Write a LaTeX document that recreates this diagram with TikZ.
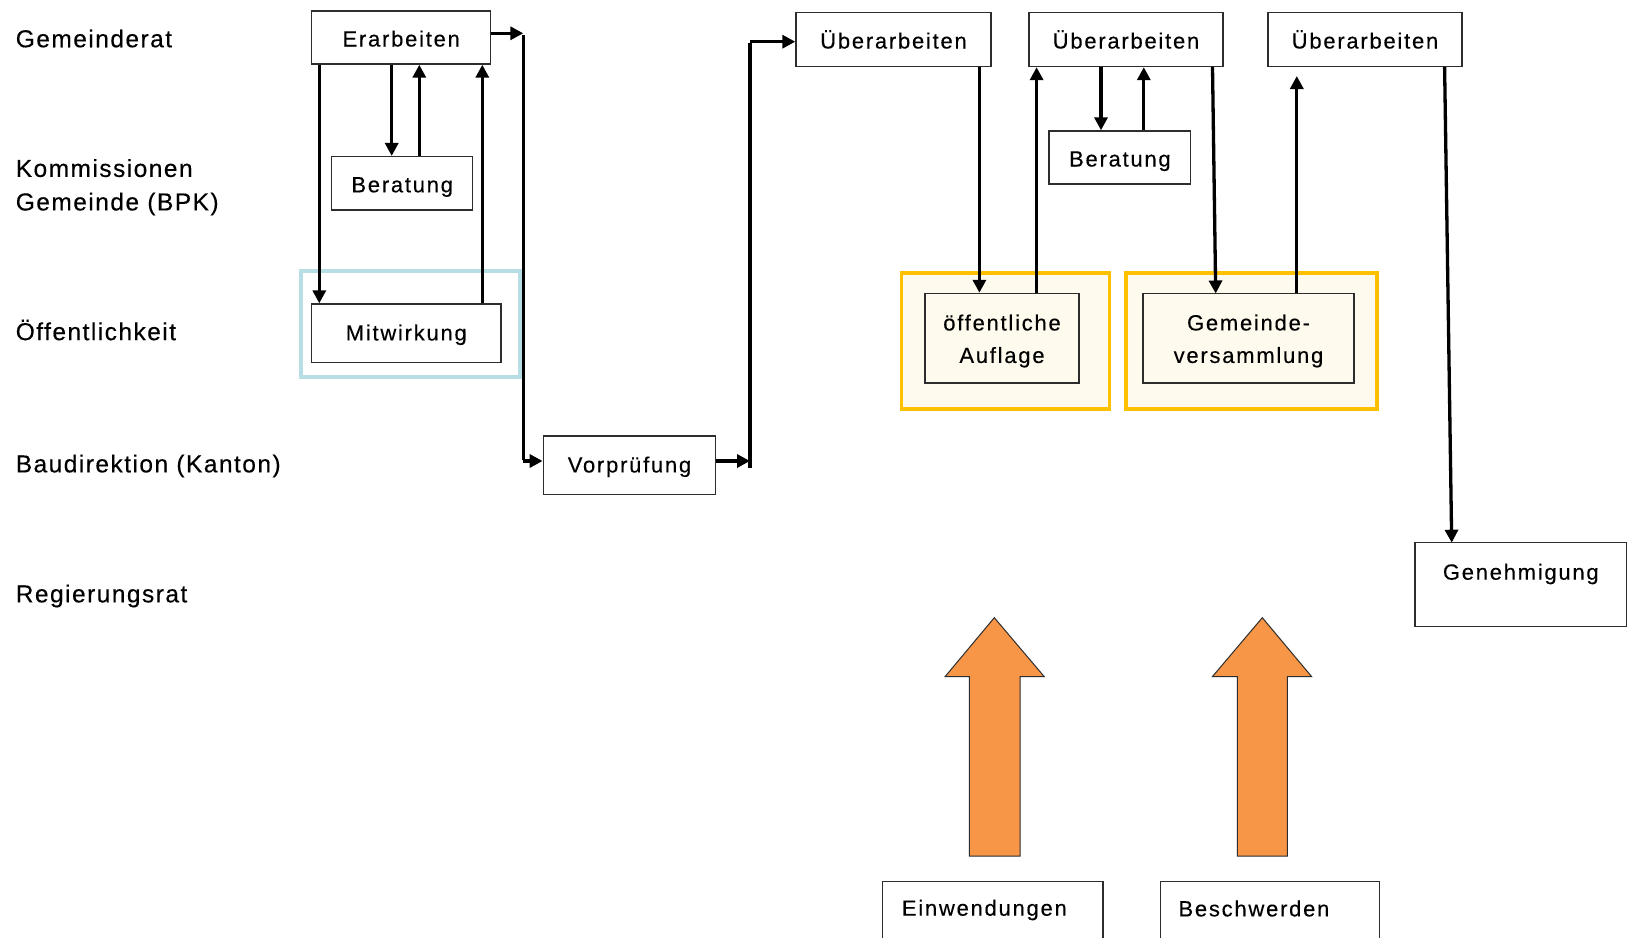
\documentclass[tikz,border=0pt]{standalone}
\usepackage{fontspec}
\setmainfont{Liberation Sans}[LetterSpace=8,FakeBold=0.3]
\newfontfamily\labelfont{Liberation Sans}[LetterSpace=6,FakeBold=0.3]
\usetikzlibrary{arrows.meta}
\definecolor{boxline}{RGB}{45,45,45}
\definecolor{cyanframe}{RGB}{183,222,228}
\definecolor{orangeframe}{RGB}{255,192,0}
\definecolor{cream}{RGB}{255,250,238}
\definecolor{bigarrow}{RGB}{247,150,70}
\tikzset{
  boxtext/.style={font=\fontsize{22}{32.5}\selectfont},
  procbox/.style={draw=boxline, line width=1.4pt, fill=white, inner sep=0pt, boxtext, align=center, text height=18pt, text depth=0pt},
  emptybox/.style={draw=boxline, line width=1.4pt, fill=white, inner sep=0pt},
  creambox/.style={emptybox, fill=cream},
  freetext/.style={boxtext, inner sep=0pt, align=center},
  lanelabel/.style={anchor=west, inner sep=0pt, font=\labelfont\fontsize{24.5}{33.5}\selectfont, align=left},
  flow/.style={line width=3.3pt, -{Triangle[length=13pt,width=13pt]}},
  plainline/.style={line width=3.3pt},
  frame/.style={line width=3.6pt},
  fatarrow/.style={draw=boxline, line width=1pt, fill=bigarrow},
}
\begin{document}
\begin{tikzpicture}[x=1pt,y=-1pt]
\useasboundingbox (0,0) rectangle (1632,937);
\clip (0,0) rectangle (1632,937);
\fill[white] (0,0) rectangle (1632,937);

% lane labels
\node[lanelabel] (lGR) at (15.6,38.5) {Gemeinderat};
\node[lanelabel] (lKom) at (15.6,187.3) {Kommissionen\\Gemeinde (BPK)};
\node[lanelabel] (lOef) at (15.6,330) {Öffentlichkeit};
\node[lanelabel] (lBau) at (15.6,466) {Baudirektion (Kanton)};
\node[lanelabel] (lReg) at (15.6,596) {Regierungsrat};

% frames
\draw[frame, draw=cyanframe] (300.7,271) rectangle (520,376.7);
\draw[frame, draw=orangeframe, fill=cream] (901.3,272.7) rectangle (1109.5,409);
\draw[frame, draw=orangeframe, fill=cream] (1126,272.7) rectangle (1377,409);

% boxes
\node[procbox, minimum width=179pt, minimum height=53pt] (erarb) at (401.2,37.5) {Erarbeiten};
\node[procbox, minimum width=141pt, minimum height=53.3pt] (berat1) at (402.2,183.3) {Beratung};
\node[procbox, minimum width=189.3pt, minimum height=58.3pt, text height=14.5pt] (mitw) at (406.3,333.2) {Mitwirkung};
\node[procbox, minimum width=172.4pt, minimum height=58.3pt, text height=14.5pt] (vorp) at (629.5,465.2) {Vorprüfung};
\node[procbox, minimum width=195pt, minimum height=54pt] (ue1) at (893.5,39.5) {Überarbeiten};
\node[procbox, minimum width=194pt, minimum height=54pt] (ue2) at (1126,39.5) {Überarbeiten};
\node[procbox, minimum width=194pt, minimum height=54pt] (ue3) at (1365,39.5) {Überarbeiten};
\node[procbox, minimum width=141.7pt, minimum height=53pt] (berat2) at (1119.9,157.5) {Beratung};
\node[creambox, minimum width=154pt, minimum height=89.5pt] (oeA) at (1002,338.2) {};
\node[freetext] (oeAtext) at (1002,341) {öffentliche\\Auflage};
\node[creambox, minimum width=211pt, minimum height=89.5pt] (gv) at (1248.5,338.2) {};
\node[freetext] (gvtext) at (1248.5,341) {Gemeinde-\\versammlung};
\node[emptybox, minimum width=211.7pt, minimum height=84pt] (gen) at (1520.8,584.7) {};
\node[freetext] (gentext) at (1520.8,574) {Genehmigung};
\node[emptybox, minimum width=220.6pt, minimum height=80pt, anchor=north west] (einw) at (881.7,880.7) {};
\node[freetext, anchor=west] (einwtext) at (901.7,910) {Einwendungen};
\node[emptybox, minimum width=219pt, minimum height=80pt, anchor=north west] (besch) at (1160,880.7) {};
\node[freetext, anchor=west] (beschtext) at (1178.3,908.5) {Beschwerden};

% left cluster connectors
\draw[flow] (erarb.south -| 319.3,0) -- (mitw.north -| 319.3,0);
\draw[flow] (erarb.south -| 391.7,0) -- (berat1.north -| 391.7,0);
\draw[flow] (berat1.north -| 419.3,0) -- (erarb.south -| 419.3,0);
\draw[flow] (mitw.north -| 482.3,0) -- (erarb.south -| 482.3,0);

% route Erarbeiten -> Vorpruefung
\coordinate (j1top) at (523.3,33.3);
\coordinate (j1bot) at (523.3,461);
\draw[flow] (erarb.east |- j1top) -- (j1top);
\draw[plainline] ([yshift=-1.5pt]j1top) -- ([yshift=1.5pt]j1bot);
\draw[flow] (j1bot) -- (vorp.west |- j1bot);

% route Vorpruefung -> Ueberarbeiten 1
\coordinate (j2bot) at (750,461);
\coordinate (j2end) at (750,467.7);
\coordinate (j2top) at (750,41.7);
\draw[flow] (vorp.east |- j2bot) -- (j2bot);
\draw[plainline] (j2end) -- ([yshift=-1.5pt]j2top);
\draw[flow] (j2top) -- (ue1.west |- j2top);

% right cluster connectors
\draw[flow] (ue1.south -| 979.4,0) -- (oeA.north -| 979.4,0);
\draw[flow] (oeA.north -| 1036.6,0) -- (ue1.south -| 1036.6,0);
\draw[flow] (ue2.south -| 1101,0) -- (berat2.north -| 1101,0);
\draw[flow] (berat2.north -| 1143.8,0) -- (ue2.south -| 1143.8,0);
\coordinate (gvin) at (1215.7,293.5);
\draw[flow] (ue2.south -| 1212.5,0) -- (gvin);
\coordinate (ue3in) at (1296.8,76);
\draw[flow] (gv.north -| ue3in) -- (ue3in);
\coordinate (genin) at (1451.7,542.7);
\draw[flow] (ue3.south -| 1444.6,0) -- (genin);

% big orange arrows
\draw[fatarrow] (994.3,617.7) -- (1044.3,676.7) -- (1020,676.7) -- (1020,856) -- (969.3,856) -- (969.3,676.7) -- (945,676.7) -- cycle;
\draw[fatarrow] (1262.3,617.7) -- (1311.7,676.7) -- (1287.3,676.7) -- (1287.3,856) -- (1237.3,856) -- (1237.3,676.7) -- (1212.3,676.7) -- cycle;
\end{tikzpicture}
\end{document}
